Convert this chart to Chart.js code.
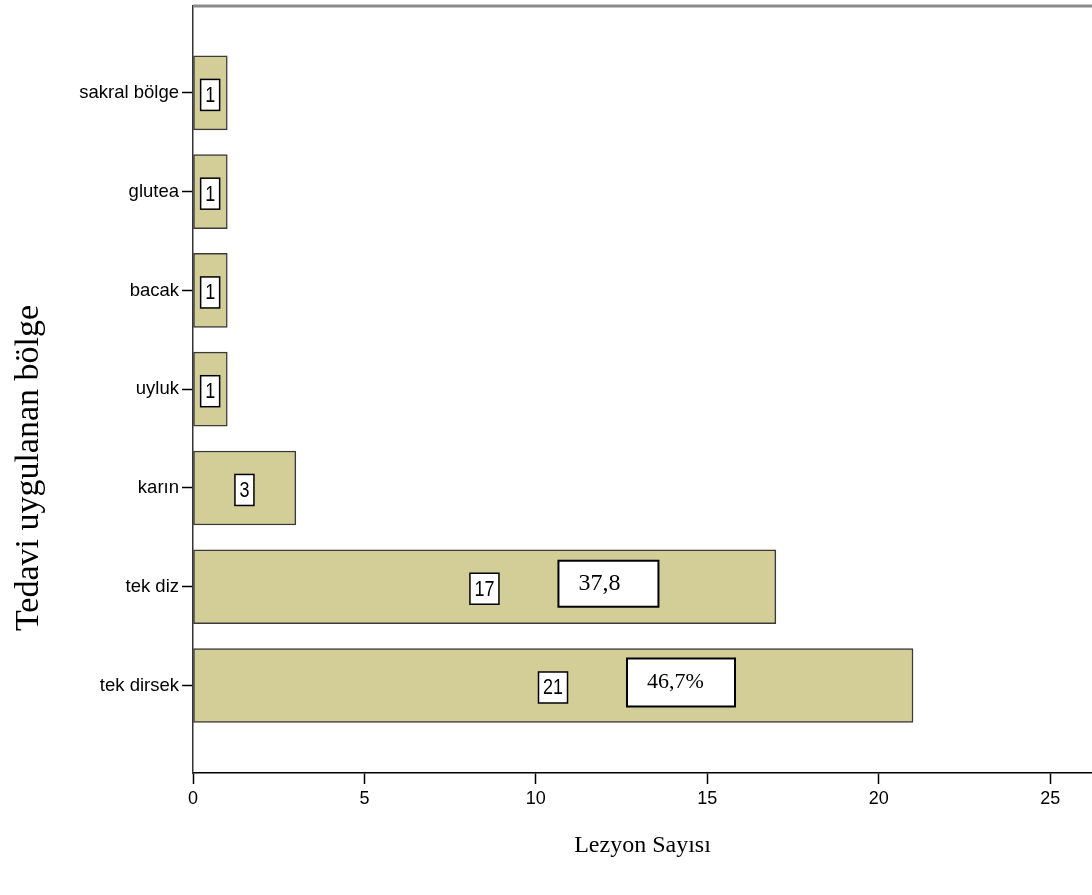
<!DOCTYPE html>
<html>
<head>
<meta charset="utf-8">
<style>
  html, body { margin: 0; padding: 0; background: #fff; }
  #wrap { width: 1092px; height: 895px; }
</style>
<script src="https://cdn.jsdelivr.net/npm/chart.js@4/dist/chart.umd.min.js"></script>
</head>
<body>
<div id="wrap"><canvas id="c" width="1092" height="895"></canvas></div>
<script>
// Treated regions, listed top to bottom, with their lesion counts
const categories = ['sakral bölge', 'glutea', 'bacak', 'uyluk', 'karın', 'tek diz', 'tek dirsek'];
const counts = [1, 1, 1, 1, 3, 17, 21];
const xTicks = [0, 5, 10, 15, 20, 25];

// Rows that carry an extra percentage note, and the suffix written after each
const percentRows = ['tek diz', 'tek dirsek'];
const percentSuffix = ['', '%'];

const xTitle = 'Lezyon Sayısı';
const yTitle = 'Tedavi uygulanan bölge';

const SANS = '"Liberation Sans", Arial, sans-serif';
const SERIF = '"Liberation Serif", "Times New Roman", serif';

// Draws the frame top, the count boxes, the percentage notes and the axis titles
const annotations = {
  id: 'annotations',
  afterDatasetsDraw(chart, args, opts) {
    const { ctx, chartArea: a, scales: { x, y } } = chart;
    ctx.save();

    // grey top edge of the frame
    ctx.strokeStyle = '#8a8a8a';
    ctx.lineWidth = 3;
    ctx.beginPath();
    ctx.moveTo(a.left, a.top);
    ctx.lineTo(a.right, a.top);
    ctx.stroke();

    // count labels in white boxes at the middle of each bar
    ctx.font = '18px ' + SANS;
    ctx.textAlign = 'center';
    ctx.textBaseline = 'middle';
    counts.forEach((v, i) => {
      const cx = x.getPixelForValue(v / 2);
      const cy = y.getPixelForValue(i) + 2;
      const t = String(v);
      const w = Math.round(ctx.measureText(t).width + 9);
      const h = 31;
      ctx.fillStyle = '#fff';
      ctx.fillRect(cx - w / 2, cy - h / 2, w, h);
      ctx.strokeStyle = '#000';
      ctx.lineWidth = 1.5;
      ctx.strokeRect(cx - w / 2, cy - h / 2, w, h);
      ctx.fillStyle = '#000';
      ctx.save();
      ctx.translate(cx, cy + 1);
      ctx.scale(1, 1.2);
      ctx.fillText(t, 0, 0);
      ctx.restore();
    });

    // percentage notes beside the count labels
    const total = counts.reduce((s, v) => s + v, 0);
    ctx.textAlign = 'left';
    percentRows.forEach((cat, k) => {
      const i = categories.indexOf(cat);
      const text = (counts[i] / total * 100).toFixed(1).replace('.', ',') + percentSuffix[k];
      const box = opts.noteBoxes[k];
      const left = x.getPixelForValue(counts[i] / 2) + opts.noteGap;
      const cy = y.getPixelForValue(i) - 3;
      ctx.fillStyle = '#fff';
      ctx.fillRect(left, cy - box.h / 2, box.w, box.h);
      ctx.strokeStyle = '#000';
      ctx.lineWidth = 2;
      ctx.strokeRect(left, cy - box.h / 2, box.w, box.h);
      ctx.fillStyle = '#000';
      ctx.font = box.size + 'px ' + SERIF;
      ctx.fillText(text, left + 20, cy);
    });

    // axis titles
    ctx.fillStyle = '#000';
    ctx.textAlign = 'center';
    ctx.textBaseline = 'middle';
    ctx.font = '24px ' + SERIF;
    ctx.fillText(xTitle, (a.left + a.right) / 2, 846);
    ctx.save();
    ctx.translate(29, 468);
    ctx.rotate(-Math.PI / 2);
    ctx.font = '34px ' + SERIF;
    ctx.fillText(yTitle, 0, 0);
    ctx.restore();

    ctx.restore();
  }
};

new Chart(document.getElementById('c'), {
  type: 'bar',
  data: {
    datasets: [{
      data: categories.map((c, i) => ({ x: counts[i], y: i })),
      backgroundColor: 'rgb(211, 206, 152)',
      borderColor: '#3a3a3a',
      borderWidth: 1.5,
      borderSkipped: false,
      barThickness: 74
    }]
  },
  options: {
    indexAxis: 'y',
    responsive: false,
    devicePixelRatio: 1,
    animation: false,
    layout: { padding: { top: 6, right: 0, bottom: 0, left: 0 } },
    plugins: {
      legend: { display: false },
      tooltip: { enabled: false },
      annotations: {
        noteGap: 74,
        noteBoxes: [{ w: 100, h: 46, size: 24 }, { w: 108, h: 48, size: 22 }]
      }
    },
    scales: {
      x: {
        type: 'linear',
        position: 'bottom',
        min: 0,
        max: 26.22,
        afterBuildTicks: s => { s.ticks = xTicks.map(v => ({ value: v })); },
        afterFit: s => { s.height = 122; s.paddingRight = 0; s.paddingLeft = 0; },
        grid: { drawOnChartArea: false, tickLength: 11, color: '#000', tickWidth: 1.5 },
        border: { color: '#000', width: 1.5 },
        ticks: { font: { family: SANS, size: 18 }, color: '#000', padding: 4, maxRotation: 0 }
      },
      y: {
        type: 'linear',
        reverse: true,
        offset: false,
        min: -0.88,
        max: 6.886,
        afterBuildTicks: s => { s.ticks = categories.map((c, i) => ({ value: i })); },
        afterFit: s => { s.width = 193; s.paddingTop = 0; s.paddingBottom = 0; },
        grid: { offset: false, drawOnChartArea: false, tickLength: 11, color: '#000', tickWidth: 1.5 },
        border: { color: '#333', width: 1.5 },
        ticks: {
          font: { family: SANS, size: 18.5 },
          color: '#000',
          padding: 3,
          callback: v => categories[v]
        }
      }
    }
  },
  plugins: [annotations]
});
</script>
</body>
</html>
